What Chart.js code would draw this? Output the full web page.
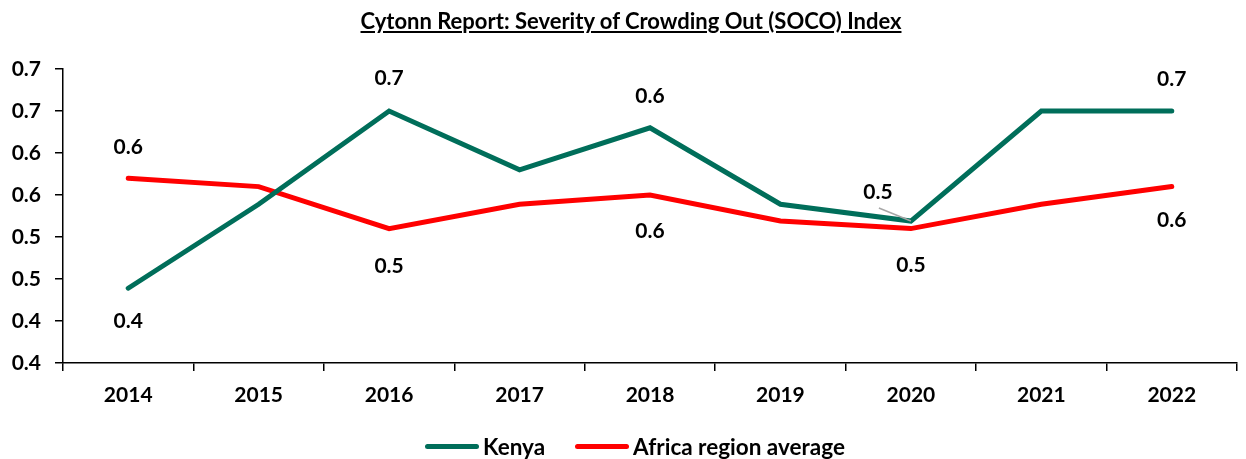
<!DOCTYPE html>
<html>
<head>
<meta charset="utf-8">
<script src="https://cdn.jsdelivr.net/npm/chart.js@4"></script>
<style>
    body { margin: 0; background: #fff; font-family: Lato, sans-serif; }
    #wrap { position: relative; width: 1246px; height: 459px; }
    #title { position: absolute; top: 7px; left: 0; width: 1262px; text-align: center; font-weight: bold; font-size: 22px; text-decoration: underline; color: #000; }
    #legend { position: absolute; top: 433px; left: 0; width: 1270px; display: flex; justify-content: center; font-weight: bold; font-size: 22.5px; color: #000; }
    .item { display: flex; align-items: center; margin: 0 15px; }
    .swatch { width: 54px; height: 5px; border-radius: 3px; margin-right: 4px; }
</style>
</head>
<body>
<div id="wrap">
    <div id="title">Cytonn Report: Severity of Crowding Out (SOCO) Index</div>
    <canvas id="chart" width="1246" height="459"></canvas>
    <div id="legend">
        <div class="item"><div class="swatch" style="background:#006E5A"></div>Kenya</div>
        <div class="item"><div class="swatch" style="background:#FF0000"></div>Africa region average</div>
    </div>
</div>
<script>
    // data
    const years = ["2014", "2015", "2016", "2017", "2018", "2019", "2020", "2021", "2022"];
    const kenya = [0.489, 0.589, 0.700, 0.630, 0.680, 0.589, 0.569, 0.700, 0.700];
    const africa = [0.620, 0.610, 0.560, 0.589, 0.600, 0.569, 0.560, 0.589, 0.610];
    const kenyaLabels = ["0.4", null, "0.7", null, "0.6", null, "0.5", null, "0.7"];
    const africaLabels = ["0.6", null, "0.5", null, "0.6", null, "0.5", null, "0.6"];
    const yTickValues = [0.40, 0.45, 0.50, 0.55, 0.60, 0.65, 0.70, 0.75];
    const yTickLabels = ["0.4", "0.4", "0.5", "0.5", "0.6", "0.6", "0.7", "0.7"];

    const fontBold = { family: "Lato", size: 21, weight: "bold" };

    // label offsets from the point: [dx, dy]
    const labelOffsets = [
        [[0, 33], null, [0, -33], null, [0, -32], null, [-33, -29], null, [0, -32]],
        [[0, -31], null, [0, 38], null, [0, 36], null, [0, 37], null, [0, 34]]
    ];
    const allLabels = [kenyaLabels, africaLabels];

    const dataLabels = {
        id: "dataLabels",
        afterDatasetsDraw(chart) {
            const ctx = chart.ctx;
            ctx.save();
            ctx.font = "bold 21px Lato";
            ctx.fillStyle = "#000";
            ctx.textAlign = "center";
            ctx.textBaseline = "middle";
            chart.data.datasets.forEach((ds, di) => {
                const meta = chart.getDatasetMeta(di);
                meta.data.forEach((pt, i) => {
                    const txt = allLabels[di][i];
                    if (!txt) return;
                    const off = labelOffsets[di][i];
                    const lx = pt.x + off[0], ly = pt.y + off[1];
                    if (di === 0 && i === 6) {
                        // leader line
                        ctx.strokeStyle = "#a6a6a6";
                        ctx.lineWidth = 1.5;
                        ctx.beginPath();
                        ctx.moveTo(lx + 1, ly + 16);
                        ctx.lineTo(pt.x, pt.y);
                        ctx.stroke();
                    }
                    ctx.fillText(txt, lx, ly);
                });
            });
            ctx.restore();
        }
    };

    new Chart(document.getElementById("chart"), {
        type: "line",
        data: {
            labels: years,
            datasets: [
                { label: "Kenya", data: kenya, borderColor: "#006E5A", borderWidth: 5, pointRadius: 0, tension: 0, borderCapStyle: "round" },
                { label: "Africa region average", data: africa, borderColor: "#FF0000", borderWidth: 5, pointRadius: 0, tension: 0, borderCapStyle: "round" }
            ]
        },
        options: {
            responsive: false,
            animation: false,
            layout: { padding: { top: 69, right: 9, bottom: 46, left: 0 } },
            plugins: { legend: { display: false }, tooltip: { enabled: false } },
            scales: {
                x: {
                    offset: true,
                    grid: { offset: true, drawOnChartArea: false, tickLength: 8, color: "#000", lineWidth: 1.5 },
                    border: { color: "#000", width: 1.5 },
                    ticks: { color: "#000", font: fontBold, padding: 12, maxRotation: 0 },
                    afterFit(scale) { scale.height = 50; }
                },
                y: {
                    min: 0.40,
                    max: 0.75,
                    grid: { drawOnChartArea: false, tickLength: 8, color: "#000", lineWidth: 1.5 },
                    border: { color: "#000", width: 1.5 },
                    ticks: {
                        color: "#000", font: fontBold, padding: 14,
                        callback: (v, i) => yTickLabels[i]
                    },
                    afterBuildTicks(scale) { scale.ticks = yTickValues.map(v => ({ value: v })); },
                    afterFit(scale) { scale.width = 63; }
                }
            }
        },
        plugins: [dataLabels]
    });
</script>
</body>
</html>
